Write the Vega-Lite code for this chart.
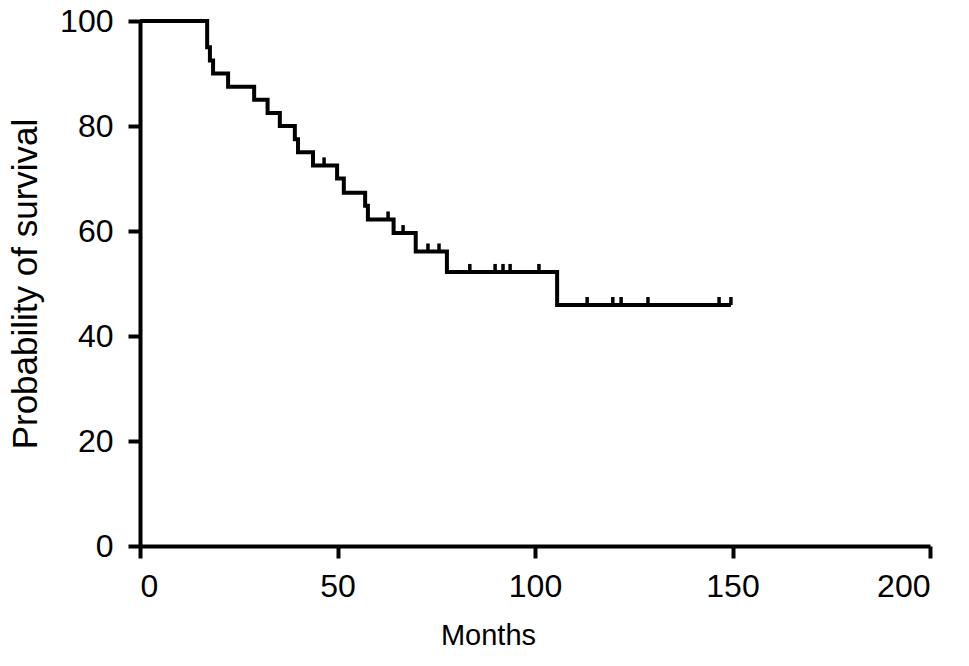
{
  "$schema": "https://vega.github.io/schema/vega-lite/v6.json",
  "width": 790,
  "height": 525,
  "autosize": {"type": "none"},
  "padding": {"left": 140, "top": 21, "right": 39, "bottom": 120},
  "background": "white",
  "config": {
    "view": {"stroke": null},
    "font": "Liberation Sans",
    "axis": {
      "grid": false,
      "domainColor": "black",
      "domainWidth": 4,
      "tickColor": "black",
      "tickWidth": 4,
      "tickSize": 12,
      "labelColor": "black",
      "labelFontSize": 32,
      "labelPadding": 13,
      "titleColor": "black",
      "titleFontWeight": "normal"
    }
  },
  "datasets": {
    "steps": [
      {"month": 0, "survival": 100},
      {"month": 17.0, "survival": 95},
      {"month": 17.7, "survival": 92.5},
      {"month": 18.5, "survival": 90},
      {"month": 22.3, "survival": 87.5},
      {"month": 28.9, "survival": 85},
      {"month": 32.3, "survival": 82.5},
      {"month": 35.4, "survival": 80},
      {"month": 39.2, "survival": 77.5},
      {"month": 40.0, "survival": 75},
      {"month": 43.8, "survival": 72.5},
      {"month": 49.9, "survival": 70},
      {"month": 51.6, "survival": 67.3},
      {"month": 57.0, "survival": 64.8},
      {"month": 57.7, "survival": 62.2},
      {"month": 64.2, "survival": 59.6},
      {"month": 69.8, "survival": 56.1},
      {"month": 77.7, "survival": 52.2},
      {"month": 105.6, "survival": 45.9},
      {"month": 149.6, "survival": 45.9}
    ],
    "censored": [
      {"month": 46.6, "survival": 72.5},
      {"month": 62.8, "survival": 62.2},
      {"month": 66.6, "survival": 59.6},
      {"month": 72.9, "survival": 56.1},
      {"month": 75.7, "survival": 56.1},
      {"month": 83.5, "survival": 52.2},
      {"month": 89.9, "survival": 52.2},
      {"month": 91.9, "survival": 52.2},
      {"month": 93.7, "survival": 52.2},
      {"month": 101.0, "survival": 52.2},
      {"month": 113.2, "survival": 45.9},
      {"month": 119.7, "survival": 45.9},
      {"month": 121.8, "survival": 45.9},
      {"month": 128.6, "survival": 45.9},
      {"month": 146.6, "survival": 45.9},
      {"month": 149.6, "survival": 45.9}
    ]
  },
  "layer": [
    {
      "data": {"name": "steps"},
      "mark": {"type": "line", "interpolate": "step-after", "color": "black", "strokeWidth": 4},
      "encoding": {
        "x": {
          "field": "month", "type": "quantitative",
          "scale": {"domain": [0, 200], "nice": false},
          "axis": {"values": [0, 50, 100, 150, 200], "title": "Months", "titleFontSize": 29, "titlePadding": 19, "titleX": 348, "titleAlign": "center"}
        },
        "y": {
          "field": "survival", "type": "quantitative",
          "scale": {"domain": [0, 100], "nice": false},
          "axis": {"values": [0, 20, 40, 60, 80, 100], "labelPadding": 15, "title": "Probability of survival", "titleFontSize": 35, "titlePadding": 16}
        }
      }
    },
    {
      "data": {"name": "censored"},
      "mark": {"type": "tick", "orient": "vertical", "color": "black", "opacity": 1, "thickness": 3.5, "size": 8, "yOffset": -4},
      "encoding": {
        "x": {"field": "month", "type": "quantitative"},
        "y": {"field": "survival", "type": "quantitative"}
      }
    }
  ]
}
